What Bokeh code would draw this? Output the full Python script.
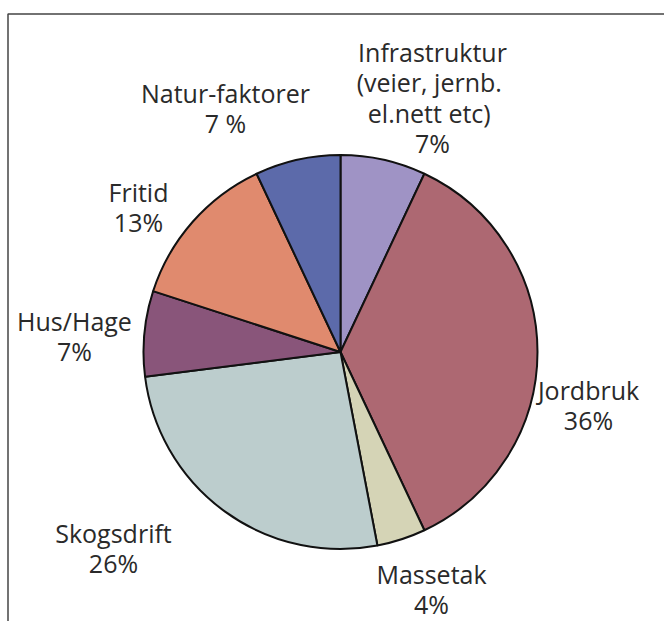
import numpy as np
from bokeh.plotting import figure
from bokeh.models import ColumnDataSource, Range1d
from bokeh.core.properties import value
from bokeh.embed import file_html
from bokeh.resources import INLINE

# ---- data ----
categories = ["Infrastruktur", "Jordbruk", "Massetak", "Skogsdrift",
              "Hus/Hage", "Fritid", "Natur-faktorer"]
shares = [7, 36, 4, 26, 7, 13, 7]
labels = ["Infrastruktur\n(veier,  jernb.\nel.nett  etc)\n7%",
          "Jordbruk\n36%",
          "Massetak\n4%",
          "Skogsdrift\n26%",
          "Hus/Hage\n7%",
          "Fritid\n13%",
          "Natur-faktorer\n7 %"]
colors = ["#9f93c5", "#ad6872", "#d5d4b6", "#bccdcd",
          "#89557a", "#e08a6e", "#5c6aaa"]

# ---- layout (page pixels) ----
W, H = 664, 621
OFF = 0
def X(px): return px - OFF
def Y(py): return H + OFF - py

cx, cy, R = X(340), Y(351.5), 197
# label anchor: centre x, first baseline y (page px)
label_pos = [(432, 51), (588, 389), (431, 573), (113, 532),
             (74, 320), (138, 191), (225, 92)]
LINE_PITCH = 30.5
FONT = "Open Sans"
FSIZE = "25px"

vals = np.array(shares, dtype=float)
frac = vals / vals.sum()
cum = np.concatenate([[0], np.cumsum(frac)])
start = np.pi / 2 - cum[:-1] * 2 * np.pi
end = np.pi / 2 - cum[1:] * 2 * np.pi

src = ColumnDataSource(dict(cat=categories, start=start, end=end, color=colors))

p = figure(width=W, height=H, output_backend="svg", toolbar_location=None,
           x_range=Range1d(0, W), y_range=Range1d(0, H),
           min_border=0, min_border_left=0, min_border_right=0,
           min_border_top=0, min_border_bottom=0)
p.axis.visible = False
p.grid.visible = False
p.outline_line_color = None
p.background_fill_color = "white"
p.border_fill_color = "white"

p.wedge(x=cx, y=cy, radius=R, start_angle="start", end_angle="end",
        direction="clock", fill_color="color", line_color="#111111",
        line_width=2, source=src)

# frame (top and left edges)
p.line(x=[X(7.5), X(7.5), W], y=[0, Y(13.5), Y(13.5)], line_color="#444444",
       line_width=1.5)

tx, ty, tt = [], [], []
for lab, (lx, ly) in zip(labels, label_pos):
    for i, line in enumerate(lab.split("\n")):
        tx.append(X(lx))
        ty.append(Y(ly + i * LINE_PITCH))
        tt.append(line)
p.text(x=tx, y=ty, text=tt, text_align="center", text_baseline="alphabetic",
       text_font=value(FONT), text_font_size=FSIZE, text_color="#2a2a2a")

open("out.html", "w").write(file_html(p, INLINE))
